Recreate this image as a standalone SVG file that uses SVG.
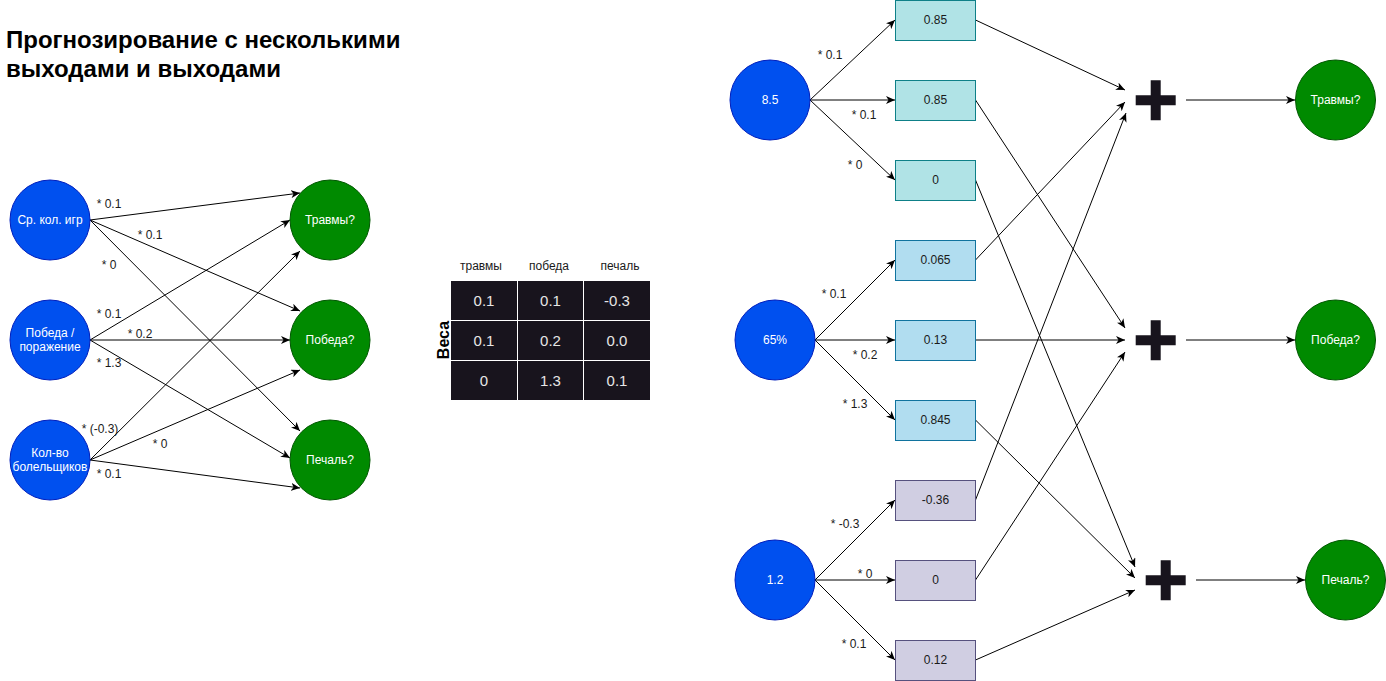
<svg xmlns="http://www.w3.org/2000/svg" width="1386" height="681" viewBox="0 0 1386 681">
<style>
text{font-family:"Liberation Sans",Arial,sans-serif}
.in{fill:#0050ef;stroke:#001dbc;stroke-width:1}
.out{fill:#008a00;stroke:#005700;stroke-width:1}
.wt{fill:#ffffff;font-size:12px;text-anchor:middle}
.lbl{fill:#1a1a1a;font-size:12px;text-anchor:middle}
.bt{fill:#1a1a1a;font-size:12px;text-anchor:middle}
.b1{fill:#b0e3e6;stroke:#0e8088}
.b2{fill:#b1ddf0;stroke:#10739e}
.b3{fill:#d0cee2;stroke:#56517e}
.e{stroke:#000;stroke-width:1;fill:none;marker-end:url(#arr)}
.cell{fill:#18141d}
.ct{fill:#e6e6e6;font-size:15px;text-anchor:middle}
.hd{fill:#1a1a1a;font-size:12px;text-anchor:middle}
.plus{fill:#18141d}
</style>
<defs>
<marker id="arr" markerWidth="10" markerHeight="8" refX="9" refY="4" orient="auto" markerUnits="userSpaceOnUse">
<path d="M0,0 L9,4 L0,8 L2.5,4 z" fill="#000"/>
</marker>
<path id="plusShape" d="M-5,-20 H5 V-5 H20 V5 H5 V20 H-5 V5 H-20 V-5 H-5 Z"/>
</defs>
<rect width="1386" height="681" fill="#ffffff"/>

<g id="title">
<text x="6" y="48" font-size="24" font-weight="bold" fill="#000">Прогнозирование с несколькими</text>
<text x="6" y="77" font-size="24" font-weight="bold" fill="#000">выходами и выходами</text>
</g>

<g id="connectors">
<path class="e" d="M90,220 L300,193"/>
<path class="e" d="M90,220 L300,311"/>
<path class="e" d="M90,220 L300,431"/>
<path class="e" d="M90,340 L290,220"/>
<path class="e" d="M90,340 L290,340"/>
<path class="e" d="M90,340 L290,458"/>
<path class="e" d="M90,460 L300,251"/>
<path class="e" d="M90,460 L300,370"/>
<path class="e" d="M90,460 L300,488"/>

<path class="e" d="M810,100 L895,20"/>
<path class="e" d="M810,100 L895,100"/>
<path class="e" d="M810,100 L895,180"/>
<path class="e" d="M815,340 L895,260"/>
<path class="e" d="M815,340 L895,340"/>
<path class="e" d="M815,340 L895,420"/>
<path class="e" d="M815,580 L895,500"/>
<path class="e" d="M815,580 L895,580"/>
<path class="e" d="M815,580 L895,660"/>

<path class="e" d="M975.5,20 L1125,90"/>
<path class="e" d="M975.5,100 L1125,328"/>
<path class="e" d="M975.5,180 L1135,567"/>
<path class="e" d="M975.5,260 L1125,102"/>
<path class="e" d="M975.5,340 L1125,340"/>
<path class="e" d="M975.5,420 L1135,578"/>
<path class="e" d="M975.5,500 L1126,113"/>
<path class="e" d="M975.5,580 L1125,352"/>
<path class="e" d="M975.5,660 L1135,590"/>

<path class="e" d="M1186,100 L1295,100"/>
<path class="e" d="M1186,340 L1295,340"/>
<path class="e" d="M1196,580 L1305,580"/>

<text class="lbl" x="109" y="208">* 0.1</text>
<text class="lbl" x="150" y="239">* 0.1</text>
<text class="lbl" x="109" y="269">* 0</text>
<text class="lbl" x="109" y="318">* 0.1</text>
<text class="lbl" x="140" y="338">* 0.2</text>
<text class="lbl" x="109" y="367">* 1.3</text>
<text class="lbl" x="100" y="433">* (-0.3)</text>
<text class="lbl" x="160" y="448">* 0</text>
<text class="lbl" x="109" y="478">* 0.1</text>

<text class="lbl" x="830" y="59">* 0.1</text>
<text class="lbl" x="864" y="119">* 0.1</text>
<text class="lbl" x="855" y="169">* 0</text>
<text class="lbl" x="834" y="298">* 0.1</text>
<text class="lbl" x="865" y="359">* 0.2</text>
<text class="lbl" x="855" y="408">* 1.3</text>
<text class="lbl" x="845" y="528">* -0.3</text>
<text class="lbl" x="865" y="578">* 0</text>
<text class="lbl" x="854" y="648">* 0.1</text>
</g>

<g id="n-games"><circle class="in" cx="50" cy="220" r="40"/><text class="wt" x="50" y="224">Ср. кол. игр</text></g>
<g id="n-win"><circle class="in" cx="50" cy="340" r="40"/><text class="wt" x="50" y="337">Победа /</text><text class="wt" x="50" y="351">поражение</text></g>
<g id="n-fans"><circle class="in" cx="50" cy="460" r="40"/><text class="wt" x="50" y="457">Кол-во</text><text class="wt" x="50" y="471">болельщиков</text></g>
<g id="n-hurt"><circle class="out" cx="330" cy="220" r="40"/><text class="wt" x="330" y="224">Травмы?</text></g>
<g id="n-victory"><circle class="out" cx="330" cy="340" r="40"/><text class="wt" x="330" y="344">Победа?</text></g>
<g id="n-sad"><circle class="out" cx="330" cy="460" r="40"/><text class="wt" x="330" y="464">Печаль?</text></g>

<g id="table">
<text class="hd" x="481" y="270">травмы</text>
<text class="hd" x="549" y="270">победа</text>
<text class="hd" x="620" y="270">печаль</text>
<rect class="cell" x="451" y="281" width="66" height="39"/>
<rect class="cell" x="518" y="281" width="65" height="39"/>
<rect class="cell" x="584" y="281" width="66" height="39"/>
<rect class="cell" x="451" y="321" width="66" height="39"/>
<rect class="cell" x="518" y="321" width="65" height="39"/>
<rect class="cell" x="584" y="321" width="66" height="39"/>
<rect class="cell" x="451" y="361" width="66" height="39"/>
<rect class="cell" x="518" y="361" width="65" height="39"/>
<rect class="cell" x="584" y="361" width="66" height="39"/>
<text class="ct" x="484" y="306">0.1</text>
<text class="ct" x="550.5" y="306">0.1</text>
<text class="ct" x="617" y="306">-0.3</text>
<text class="ct" x="484" y="346">0.1</text>
<text class="ct" x="550.5" y="346">0.2</text>
<text class="ct" x="617" y="346">0.0</text>
<text class="ct" x="484" y="386">0</text>
<text class="ct" x="550.5" y="386">1.3</text>
<text class="ct" x="617" y="386">0.1</text>
<text x="449" y="340" font-size="16" font-weight="bold" fill="#000" text-anchor="middle" transform="rotate(-90 449 340)">Веса</text>
</g>

<g id="r-in1"><circle class="in" cx="770" cy="100" r="40"/><text class="wt" x="770" y="104">8.5</text></g>
<g id="r-in2"><circle class="in" cx="775" cy="340" r="40"/><text class="wt" x="775" y="344">65%</text></g>
<g id="r-in3"><circle class="in" cx="775" cy="580" r="40"/><text class="wt" x="775" y="584">1.2</text></g>

<g id="box1"><rect class="b1" x="895.5" y="0.5" width="80" height="40"/><text class="bt" x="935.5" y="24">0.85</text></g>
<g id="box2"><rect class="b1" x="895.5" y="80.5" width="80" height="40"/><text class="bt" x="935.5" y="104">0.85</text></g>
<g id="box3"><rect class="b1" x="895.5" y="160.5" width="80" height="40"/><text class="bt" x="935.5" y="184">0</text></g>
<g id="box4"><rect class="b2" x="895.5" y="240.5" width="80" height="40"/><text class="bt" x="935.5" y="264">0.065</text></g>
<g id="box5"><rect class="b2" x="895.5" y="320.5" width="80" height="40"/><text class="bt" x="935.5" y="344">0.13</text></g>
<g id="box6"><rect class="b2" x="895.5" y="400.5" width="80" height="40"/><text class="bt" x="935.5" y="424">0.845</text></g>
<g id="box7"><rect class="b3" x="895.5" y="480.5" width="80" height="40"/><text class="bt" x="935.5" y="504">-0.36</text></g>
<g id="box8"><rect class="b3" x="895.5" y="560.5" width="80" height="40"/><text class="bt" x="935.5" y="584">0</text></g>
<g id="box9"><rect class="b3" x="895.5" y="640.5" width="80" height="40"/><text class="bt" x="935.5" y="664">0.12</text></g>

<g id="plus1"><use href="#plusShape" class="plus" x="1155.7" y="100.3"/></g>
<g id="plus2"><use href="#plusShape" class="plus" x="1155.7" y="340.3"/></g>
<g id="plus3"><use href="#plusShape" class="plus" x="1165.7" y="580.3"/></g>

<g id="o-hurt"><circle class="out" cx="1335.5" cy="100" r="40"/><text class="wt" x="1335.5" y="104">Травмы?</text></g>
<g id="o-victory"><circle class="out" cx="1335.5" cy="340" r="40"/><text class="wt" x="1335.5" y="344">Победа?</text></g>
<g id="o-sad"><circle class="out" cx="1345.5" cy="580" r="40"/><text class="wt" x="1345.5" y="584">Печаль?</text></g>
</svg>
